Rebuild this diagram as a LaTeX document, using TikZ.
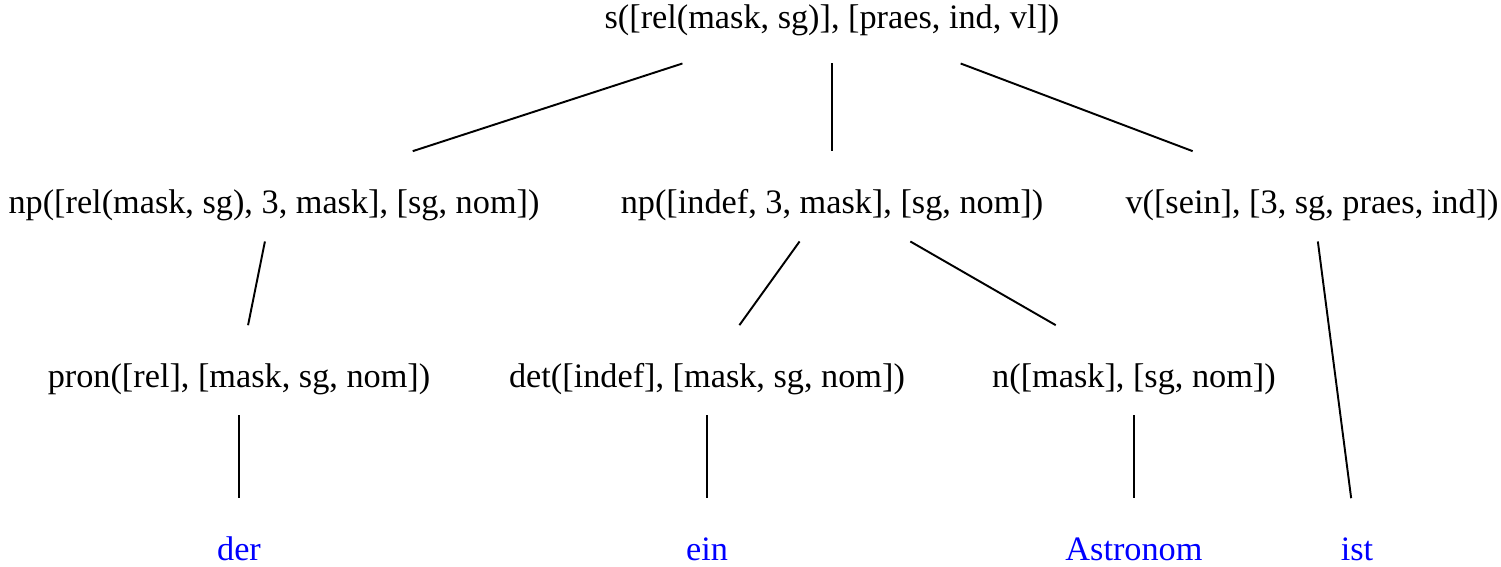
\documentclass[tikz,border=0pt]{standalone}
\usepackage{fontspec}
\setmainfont{Liberation Serif}
\tikzstyle{cat} = [
    rectangle,
    inner xsep=2pt,
    inner ysep=0pt,
    text height=35pt,
    text depth=16pt,
    anchor=base,
    font=\fontsize{19.5}{23}\selectfont
]
\tikzstyle{word} = [
    cat,
    text=blue
]
\tikzstyle{branch} = [
    line width=1.1pt
]

\begin{document}
\begin{tikzpicture}[x=0.02cm, y=-0.02cm]
    \useasboundingbox (0,0) rectangle (1501,566);
    % categories
    \node (s) [cat, text depth=20pt] at (832,28) {s([rel(mask, sg)], [praes, ind, vl])};
    \node (np1) [cat] at (274,213) {np([rel(mask, sg), 3, mask], [sg, nom])};
    \node (np2) [cat] at (832,213) {np([indef, 3, mask], [sg, nom])};
    \node (v) [cat] at (1312,213) {v([sein], [3, sg, praes, ind])};
    \node (pron) [cat] at (239,387) {pron([rel], [mask, sg, nom])};
    \node (det) [cat] at (707,387) {det([indef], [mask, sg, nom])};
    \node (n) [cat] at (1134,387) {n([mask], [sg, nom])};
    % words
    \node (der) [word] at (239,560) {der};
    \node (ein) [word] at (707,560) {ein};
    \node (astronom) [word] at (1134,560) {Astronom};
    \node (ist) [word] at (1357,560) {ist};

    \draw[branch] (s) -- (np1);
    \draw[branch] (s) -- (np2);
    \draw[branch] (s) -- (v);
    \draw[branch] (np1) -- (pron);
    \draw[branch] (np2) -- (det);
    \draw[branch] (np2) -- (n);
    \draw[branch] (v) -- (ist);
    \draw[branch] (pron) -- (der);
    \draw[branch] (det) -- (ein);
    \draw[branch] (n) -- (astronom);
\end{tikzpicture}
\end{document}
